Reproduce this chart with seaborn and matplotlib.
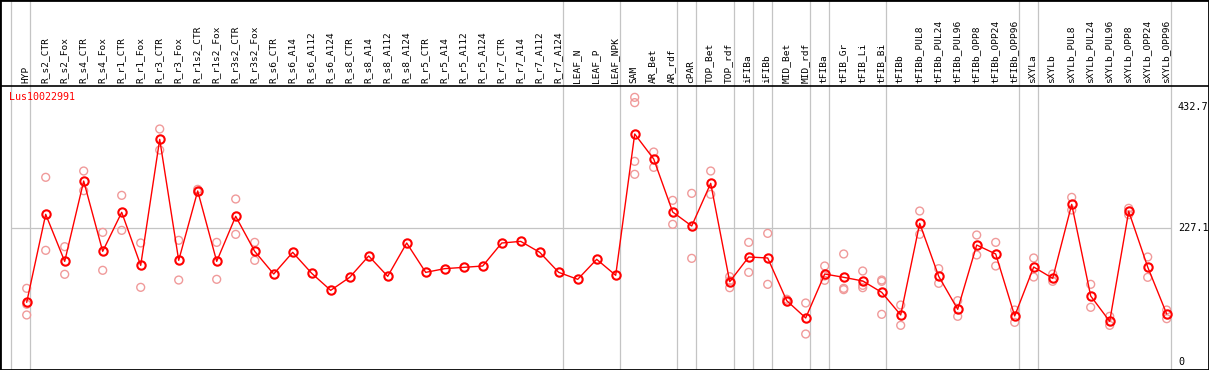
import numpy as np
import pandas as pd
import matplotlib
matplotlib.use("Agg")
import matplotlib.pyplot as plt
import seaborn as sns

gene = "Lus10022991"

samples = [
    "HYP", "R_s2_CTR", "R_s2_Fox", "R_s4_CTR", "R_s4_Fox", "R_r1_CTR", "R_r1_Fox",
    "R_r3_CTR", "R_r3_Fox", "R_r1s2_CTR", "R_r1s2_Fox", "R_r3s2_CTR", "R_r3s2_Fox",
    "R_s6_CTR", "R_s6_A14", "R_s6_A112", "R_s6_A124", "R_s8_CTR", "R_s8_A14",
    "R_s8_A112", "R_s8_A124", "R_r5_CTR", "R_r5_A14", "R_r5_A112", "R_r5_A124",
    "R_r7_CTR", "R_r7_A14", "R_r7_A112", "R_r7_A124", "LEAF_N", "LEAF_P", "LEAF_NPK",
    "SAM", "AR_Bet", "AR_rdf", "cPAR", "TOP_Bet", "TOP_rdf", "iFIBa", "iFIBb",
    "MID_Bet", "MID_rdf", "tFIBa", "tFIB_Gr", "tFIB_Li", "tFIB_Bi", "tFIBb",
    "tFIBb_PUL8", "tFIBb_PUL24", "tFIBb_PUL96", "tFIBb_OPP8", "tFIBb_OPP24",
    "tFIBb_OPP96", "sXYLa", "sXYLb", "sXYLb_PUL8", "sXYLb_PUL24", "sXYLb_PUL96",
    "sXYLb_OPP8", "sXYLb_OPP24", "sXYLb_OPP96",
]

mean_expr = [
    101.3, 250.6, 170.8, 307.1, 187.8, 254.0, 164.0, 377.8, 172.5, 290.2, 170.8,
    247.2, 187.8, 149.3, 186.1, 150.5, 121.6, 143.7, 179.9, 145.4, 201.9, 152.1,
    158.4, 160.6, 162.9, 201.9, 204.7, 186.1, 152.1, 140.3, 174.2, 147.1, 386.9,
    344.5, 254.5, 230.8, 303.2, 136.3, 178.2, 176.5, 104.1, 74.7, 149.3, 143.7,
    137.5, 118.2, 79.8, 235.3, 145.4, 89.4, 198.5, 183.3, 78.1, 161.2, 142.0,
    267.5, 112.0, 69.0, 255.7, 161.2, 81.5,
]

replicates = [
    [125.0, 98.0, 79.8], [313.4, 189.5], [195.7, 148.8], [324.1, 290.7],
    [220.0, 155.6], [282.8, 223.4], [202.0, 126.7], [395.4, 359.7],
    [206.5, 139.1], [293.0, 288.5], [203.0, 140.3], [276.6, 216.6],
    [203.0, 172.5], [], [], [], [], [], [], [], [], [], [], [], [], [], [], [], [],
    [], [], [], [449.1, 440.1, 340.5, 318.5], [356.3, 330.3], [274.3, 233.6],
    [286.2, 175.9], [324.1, 284.5], [144.8, 138.0, 126.1], [203.0, 152.1],
    [218.3, 131.8], [106.5, 102.0], [100.1, 47.5], [162.9, 146.0, 138.6],
    [183.3, 125.0, 122.8], [154.4, 130.1, 126.1], [139.1, 136.9, 80.9],
    [96.7, 62.2], [256.2, 216.6], [158.4, 133.5], [104.1, 77.5], [215.5, 181.6],
    [203.0, 162.9], [88.2, 67.3], [176.5, 144.2], [149.3, 136.9], [279.4, 257.9],
    [131.8, 92.8], [77.5, 62.2], [260.8, 250.0], [178.2, 143.7], [88.2, 73.5],
]

# last sample index of each tissue group (-1 = left edge)
group_ends = [-1, 0, 28, 31, 34, 35, 37, 38, 39, 41, 42, 45, 52, 53, 60]

y_marks = [432.7, 227.1, 0]

pos = np.arange(len(samples))
rep_df = pd.DataFrame(
    [(i, v) for i, reps in enumerate(replicates) for v in reps],
    columns=["pos", "value"],
)
mean_df = pd.DataFrame({"pos": pos, "value": mean_expr})

sns.set_style("white")
plt.rcParams["font.family"] = ["DejaVu Sans Mono", "DejaVu Sans"]

fig = plt.figure(figsize=(12.09, 3.70), dpi=100)
ax = fig.add_axes([0, 0, 1, 1])

# pixel layout -> data limits
x0, dx = 26.7, 19.0
y0, dy = 362.0, 0.5893
ax.set_xlim((0 - x0) / dx, (1209 - x0) / dx)
ax.set_ylim((y0 - 370) / dy, (y0 - 0) / dy)

def px_x(p):
    return (p - x0) / dx

def px_y(p):
    return (y0 - p) / dy

for s in group_ends:
    ax.axvline(s + 0.2, color="#c4c4c4", lw=0.9, zorder=1)
ax.hlines(y_marks[1], -0.85, 60.2, color="#c4c4c4", lw=0.9, zorder=1)
ax.axhline(px_y(85.5), color="black", lw=1.2, zorder=2)

sns.scatterplot(data=rep_df, x="pos", y="value", ax=ax, marker="o", s=32,
                facecolors="none", edgecolor="#f09a9a", linewidth=1.0, zorder=3)
sns.lineplot(data=mean_df, x="pos", y="value", ax=ax, color="red", lw=1.0,
             marker="o", markersize=6.0, markerfacecolor="none",
             markeredgecolor="red", markeredgewidth=1.5, zorder=4)

for i, name in enumerate(samples):
    ax.text(i - 0.05, px_y(83), name, rotation=90, ha="center", va="bottom",
            fontsize=6.8, color="black")

for v in y_marks:
    ax.text(px_x(1178), v, f"{v:g}" if v else "0", ha="left", va="center",
            fontsize=7.3, color="black")

ax.text(px_x(9.5), px_y(96.5), gene, ha="left", va="center", fontsize=7.2,
        color="red")

ax.set_xlabel("")
ax.set_ylabel("")
ax.set_xticks([])
ax.set_yticks([])
for sp in ax.spines.values():
    sp.set_visible(True)
    sp.set_color("black")
    sp.set_linewidth(2.0)

fig.savefig("out.png", dpi=100)
